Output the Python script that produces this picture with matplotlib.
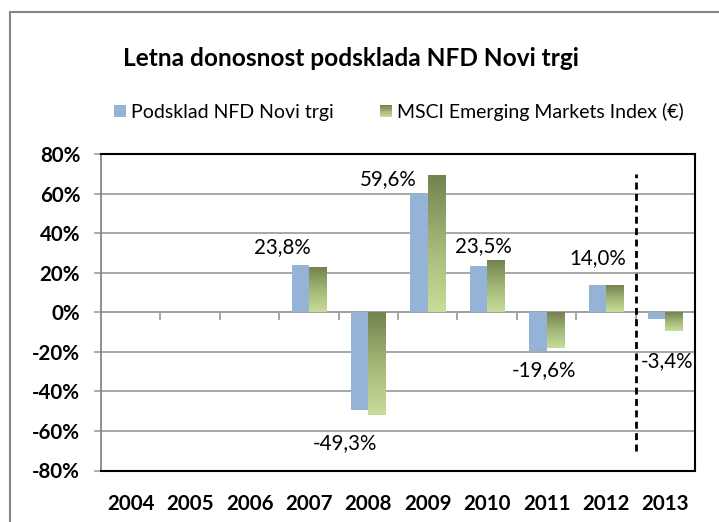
import numpy as np
import matplotlib.pyplot as plt
from matplotlib.patches import Patch, Rectangle
from matplotlib.colors import LinearSegmentedColormap
from matplotlib.legend_handler import HandlerBase
from matplotlib.lines import Line2D

plt.rcParams['font.family'] = ['Lato', 'DejaVu Sans']

# podatki
years = ['2004', '2005', '2006', '2007', '2008', '2009', '2010', '2011', '2012', '2013']
fund = [np.nan, np.nan, np.nan, 23.8, -49.3, 59.6, 23.5, -19.6, 14.0, -3.4]
msci = [np.nan, np.nan, np.nan, 22.6, -52.0, 69.2, 26.0, -17.9, 13.3, -9.3]
yticks = [-80, -60, -40, -20, 0, 20, 40, 60, 80]

title = 'Letna donosnost podsklada NFD Novi trgi'
fund_name = 'Podsklad NFD Novi trgi'
msci_name = 'MSCI Emerging Markets Index (€)'

# položaj oznak (odmik od kategorije, višina v %)
label_pos = {3: (-0.44, 32.9), 4: (-0.40, -66.3), 5: (-0.67, 67.3), 6: (-0.06, 33.4),
             7: (-0.05, -29.4), 8: (-0.13, 27.3), 9: (0.03, -24.8)}

blue = '#95B3D7'
green_cmap = LinearSegmentedColormap.from_list('g', ['#72834F', '#A3B676', '#C8DD9A'])
grid_col = '#A0A0A0'

fig = plt.figure(figsize=(7.19, 5.22), dpi=100)
ax = fig.add_axes([101 / 719, 1 - 470.5 / 522, 594 / 719, 316.5 / 522])

x = np.arange(len(years))
w = 0.29
ax.bar(x - w / 2, fund, width=w, color=blue, zorder=2)

grad = np.linspace(0, 1, 200).reshape(-1, 1)
for i, v in enumerate(msci):
    if np.isnan(v):
        continue
    ax.imshow(grad, cmap=green_cmap, aspect='auto', zorder=2,
              extent=[i, i + w, min(0, v), max(0, v)])

# oznake vrednosti
for i, (dx, ly) in label_pos.items():
    txt = f'{fund[i]:.1f}%'.replace('.', ',')
    ax.text(i + dx, ly, txt, ha='center', va='center', fontsize=14.8, zorder=4)

# navpična črtkana črta
ax.vlines(8.5, -70, 70, colors='black', linestyles=(0, (2.5, 1.6)), lw=2, zorder=3)

# os x pri 0
ax.axhline(0, color=grid_col, lw=1.3, zorder=1)
ax.vlines(np.arange(0.5, len(years) - 0.5), -3.8, 0, colors=grid_col, lw=1.3, zorder=1)

ax.set_xlim(-0.5, len(years) - 0.5)
ax.set_ylim(-80, 80)
ax.set_yticks(yticks)
ax.set_yticklabels([f'{t}%' for t in yticks], fontsize=14.8, fontweight='bold')
ax.set_xticks(x)
ax.set_xticklabels(years, fontsize=14.8, fontweight='bold')
ax.tick_params(axis='x', length=0, pad=17)
ax.tick_params(axis='y', length=5, width=1.2, color=grid_col, pad=10)
ax.yaxis.grid(True, color=grid_col, lw=1.3)
ax.set_axisbelow(True)
for s in ['top', 'right', 'bottom']:
    ax.spines[s].set_color('black')
    ax.spines[s].set_linewidth(1.5)
ax.spines['left'].set_color('#868686')
ax.spines['left'].set_linewidth(1.3)


class GradientHandler(HandlerBase):
    def create_artists(self, legend, orig_handle, xdescent, ydescent, width, height, fontsize, trans):
        n = 10
        arts = []
        for k in range(n):
            r = Rectangle((-xdescent, -ydescent + height * (1 - (k + 1) / n)), width, height / n,
                          facecolor=green_cmap(k / (n - 1)), edgecolor='none', transform=trans)
            arts.append(r)
        return arts


h1 = Patch(facecolor=blue, edgecolor='none')
h2 = Patch(facecolor='#A3B676', edgecolor='none')
fig.legend([h1, h2], [fund_name, msci_name], loc='center', bbox_to_anchor=(399 / 719, 1 - 112 / 522),
           ncol=2, frameon=False, fontsize=14, handlelength=0.62, handleheight=0.62,
           handletextpad=0.25, columnspacing=2.4, handler_map={h2: GradientHandler()})

fig.text(351 / 719, 1 - 58 / 522, title, ha='center', va='center', fontsize=17.6, fontweight='bold')

# okvir grafikona
fig.add_artist(Line2D([10 / 719, 10 / 719], [0, 1 - 12 / 522], color='#868686', lw=1.5))
fig.add_artist(Line2D([10 / 719, 1], [1 - 12 / 522, 1 - 12 / 522], color='#868686', lw=1.5))

fig.savefig('out.png', dpi=100)
